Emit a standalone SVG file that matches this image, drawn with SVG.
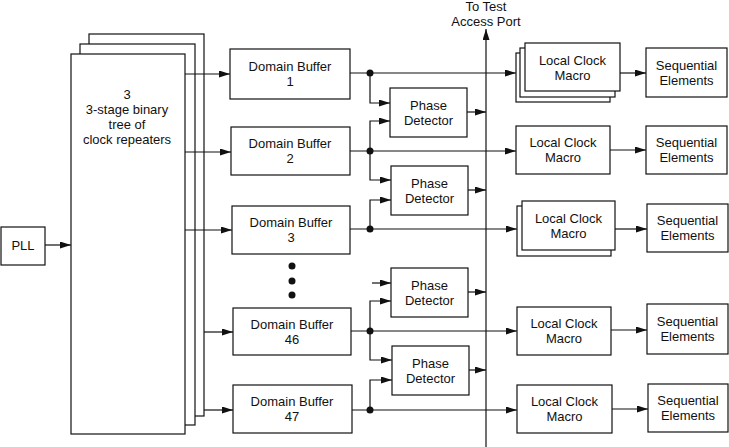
<svg xmlns="http://www.w3.org/2000/svg" width="729" height="447" viewBox="0 0 729 447">
<defs>
<style>
.box{fill:#fff;stroke:#111;stroke-width:1.2}
.ln{fill:none;stroke:#111;stroke-width:1.2}
.ar{fill:none;stroke:#111;stroke-width:1.2;marker-end:url(#ah)}
.dot{fill:#111}
text{font-family:"Liberation Sans",Arial,sans-serif;font-size:13px;fill:#111;text-anchor:middle}
</style>
<marker id="ah" markerUnits="userSpaceOnUse" markerWidth="11" markerHeight="7" refX="11" refY="3.5" orient="auto">
<path d="M0,0 L11,3.5 L0,7 z" fill="#111"/>
</marker>
</defs>
<rect width="729" height="447" fill="#fff"/>

<g id="pll"><rect class="box" x="1" y="227" width="44" height="38"/><text x="23" y="250">PLL</text></g>

<g id="tree">
<rect class="box" x="89" y="34" width="115" height="382"/>
<rect class="box" x="80" y="44" width="115" height="381"/>
<rect class="box" x="71" y="54" width="114" height="380"/>
<text x="127" y="99">3</text>
<text x="127" y="114">3-stage binary</text>
<text x="127" y="129">tree of</text>
<text x="127" y="144">clock repeaters</text>
</g>

<g id="db1"><rect class="box" x="230" y="49" width="120" height="50"/><text x="290" y="71">Domain Buffer</text><text x="290" y="86">1</text></g>
<g id="db2"><rect class="box" x="231" y="127" width="119" height="48"/><text x="290" y="148">Domain Buffer</text><text x="290" y="163">2</text></g>
<g id="db3"><rect class="box" x="232" y="206" width="118" height="48"/><text x="291" y="227">Domain Buffer</text><text x="291" y="242">3</text></g>
<g id="db46"><rect class="box" x="233" y="308" width="118" height="47"/><text x="292" y="329">Domain Buffer</text><text x="292" y="344">46</text></g>
<g id="db47"><rect class="box" x="233" y="385" width="119" height="48"/><text x="292" y="406">Domain Buffer</text><text x="292" y="421">47</text></g>

<g id="pd1"><rect class="box" x="390" y="88" width="77" height="49"/><text x="428.5" y="110">Phase</text><text x="428.5" y="125">Detector</text></g>
<g id="pd2"><rect class="box" x="391" y="166" width="77" height="49"/><text x="429.5" y="188">Phase</text><text x="429.5" y="203">Detector</text></g>
<g id="pd3"><rect class="box" x="391" y="268" width="77" height="49"/><text x="429.5" y="290">Phase</text><text x="429.5" y="305">Detector</text></g>
<g id="pd4"><rect class="box" x="392" y="346" width="77" height="49"/><text x="430.5" y="368">Phase</text><text x="430.5" y="383">Detector</text></g>

<g id="tap"><text x="486" y="11">To Test</text><text x="486" y="26">Access Port</text></g>

<g id="lcm1">
<rect class="box" x="516" y="53" width="94" height="49"/>
<rect class="box" x="520" y="48" width="95" height="49"/>
<rect class="box" x="525" y="43" width="95" height="48"/>
<text x="572.5" y="64.5">Local Clock</text><text x="572.5" y="79.5">Macro</text>
</g>
<g id="lcm2"><rect class="box" x="516" y="126" width="94" height="48"/><text x="563" y="147">Local Clock</text><text x="563" y="162">Macro</text></g>
<g id="lcm3">
<rect class="box" x="517" y="206" width="94" height="50"/>
<rect class="box" x="522" y="201" width="93" height="49"/>
<text x="568.5" y="223">Local Clock</text><text x="568.5" y="238">Macro</text>
</g>
<g id="lcm4"><rect class="box" x="517" y="307" width="94" height="48"/><text x="564" y="328">Local Clock</text><text x="564" y="343">Macro</text></g>
<g id="lcm5"><rect class="box" x="517" y="385" width="95" height="48"/><text x="564.5" y="406">Local Clock</text><text x="564.5" y="421">Macro</text></g>

<g id="se1"><rect class="box" x="646" y="48" width="81" height="49"/><text x="686.5" y="70">Sequential</text><text x="686.5" y="85">Elements</text></g>
<g id="se2"><rect class="box" x="646" y="126" width="81" height="48"/><text x="686.5" y="147">Sequential</text><text x="686.5" y="162">Elements</text></g>
<g id="se3"><rect class="box" x="647" y="204" width="81" height="48"/><text x="687.5" y="225">Sequential</text><text x="687.5" y="240">Elements</text></g>
<g id="se4"><rect class="box" x="647" y="304" width="81" height="50"/><text x="687.5" y="326">Sequential</text><text x="687.5" y="341">Elements</text></g>
<g id="se5"><rect class="box" x="648" y="384" width="80" height="48"/><text x="688" y="405">Sequential</text><text x="688" y="420">Elements</text></g>

<g id="ellipsis"><circle class="dot" cx="292" cy="266" r="3.5"/><circle class="dot" cx="292" cy="281" r="3.5"/><circle class="dot" cx="292" cy="295" r="3.5"/></g>

<g id="connectors">
<path class="ar" d="M45,245 H71"/>
<path class="ar" d="M185,74 H230"/>
<path class="ar" d="M185,152 H231"/>
<path class="ar" d="M185,230 H232"/>
<path class="ar" d="M204,332 H233"/>
<path class="ar" d="M204,410 H233"/>
<path class="ar" d="M350,73 H516"/>
<path class="ar" d="M350,151 H516"/>
<path class="ar" d="M350,229 H517"/>
<path class="ar" d="M351,331 H517"/>
<path class="ar" d="M352,410 H517"/>
<path class="ar" d="M370,73 V103 H390"/>
<path class="ar" d="M370,151 V121 H390"/>
<path class="ar" d="M370,151 V180 H391"/>
<path class="ar" d="M370,229 V200 H391"/>
<path class="ar" d="M372,283 H391"/>
<path class="ar" d="M370,331 V301 H391"/>
<path class="ar" d="M370,331 V360 H392"/>
<path class="ar" d="M370,410 V380 H392"/>
<path class="ar" d="M467,112 H486"/>
<path class="ar" d="M468,190 H486"/>
<path class="ar" d="M468,292 H486"/>
<path class="ar" d="M469,370 H486"/>
<path class="ar" d="M486,447 V29"/>
<path class="ar" d="M620,73 H646"/>
<path class="ar" d="M610,150 H646"/>
<path class="ar" d="M615,229 H647"/>
<path class="ar" d="M611,330 H647"/>
<path class="ar" d="M612,409 H648"/>
<circle class="dot" cx="370" cy="73" r="3.5"/>
<circle class="dot" cx="370" cy="151" r="3.5"/>
<circle class="dot" cx="370" cy="229" r="3.5"/>
<circle class="dot" cx="370" cy="331" r="3.5"/>
<circle class="dot" cx="370" cy="410" r="3.5"/>
</g>
</svg>
